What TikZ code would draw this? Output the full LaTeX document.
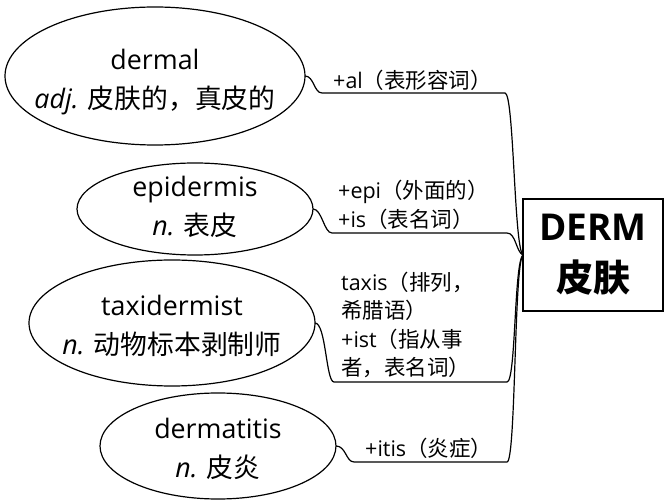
\documentclass[tikz,border=0pt]{standalone}
\usepackage{fontspec}
\setmainfont{Open Sans}
\newfontfamily\cjk{Noto Sans CJK SC}
\usetikzlibrary{shapes.geometric}
\begin{document}
\begin{tikzpicture}[x=1pt,y=-1pt,
 word/.style={draw, ellipse, line width=1.2pt, inner sep=0pt, outer sep=0pt},
 wtext/.style={align=center, inner sep=0pt, font=\fontsize{26.8}{38.5}\selectfont},
 lab/.style={anchor=west, align=left, inner sep=0pt, font=\fontsize{21.5}{28.5}\selectfont},
 conn/.style={line width=1.2pt},
 root/.style={draw, line width=2.2pt, fill=white, outer sep=0pt, minimum width=140pt, minimum height=112pt, align=center, font=\bfseries\fontsize{37}{51}\selectfont}]
\useasboundingbox (0,0) rectangle (667,502);
% word ellipses
\node[word, minimum width=300pt, minimum height=138pt] (d1) at (155,76) {};
\node[word, minimum width=236pt, minimum height=92pt] (d2) at (195,209) {};
\node[word, minimum width=286pt, minimum height=126pt] (d3) at (172,323) {};
\node[word, minimum width=236pt, minimum height=106pt] (d4) at (218,446) {};
\node[wtext] (t1) at (155,82) {dermal\\{\itshape adj.} {\cjk 皮肤的，真皮的}};
\node[wtext] (t2) at (195,207) {epidermis\\{\itshape n.} {\cjk 表皮}};
\node[wtext] (t3) at (172,326) {taxidermist\\{\itshape n.} {\cjk 动物标本剥制师}};
\node[wtext] (t4) at (218,449) {dermatitis\\{\itshape n.} {\cjk 皮炎}};
% root box position
\coordinate (rw) at (523,255);
% underline corners
\coordinate (a1) at (322,93);  \coordinate (b1) at (505,93);
\coordinate (a2) at (332,233); \coordinate (b2) at (507,233);
\coordinate (a3) at (334,382); \coordinate (b3) at (507,382);
\coordinate (a4) at (354,462); \coordinate (b4) at (507,462);
\draw[conn] (d1.east) .. controls (314,76) and (314,93) .. (a1) -- (b1) .. controls (514,93) and (514,248) .. (rw);
\draw[conn] (d2.east) .. controls (322,209) and (324,233) .. (a2) -- (b2) .. controls (516,233) and (516,252) .. (rw);
\draw[conn] (d3.east) .. controls (326,323) and (326,382) .. (a3) -- (b3) .. controls (516,382) and (514,262) .. (rw);
\draw[conn] (d4.east) .. controls (346,446) and (346,462) .. (a4) -- (b4) .. controls (516,462) and (514,262) .. (rw);
% root
\node[root, anchor=west] (root) at (rw) {DERM\\{\cjk 皮肤}};
% labels
\node[lab] (l1) at (333,80) {+al{\cjk （表形容词）}};
\node[lab] (l2) at (338,205) {+epi{\cjk （外面的）}\\+is{\cjk （表名词）}};
\node[lab] (l3) at (341,325) {taxis{\cjk （排列，}\\{\cjk 希腊语）}\\+ist{\cjk （指从事}\\{\cjk 者，表名词）}};
\node[lab] (l4) at (365,448) {+itis{\cjk （炎症）}};
\end{tikzpicture}
\end{document}
